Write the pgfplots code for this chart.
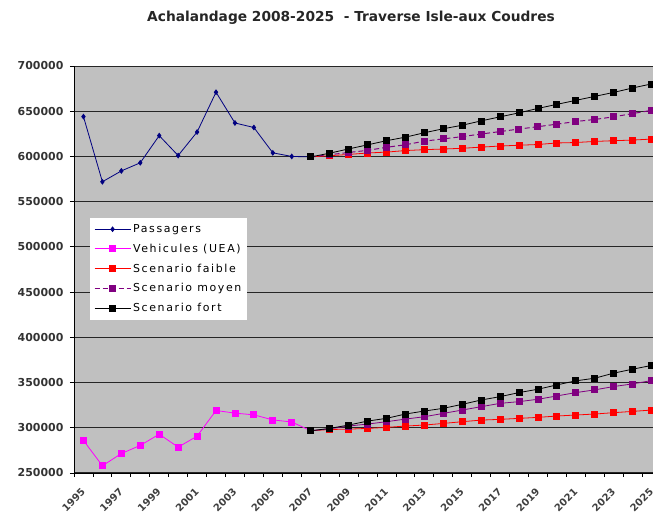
\documentclass[border=0pt]{standalone}
\usepackage{fontspec}
\setmainfont{DejaVu Sans}
\usepackage{pgfplots}
\pgfplotsset{compat=1.18}
\definecolor{plotbg}{RGB}{192,192,192}
\definecolor{navy}{RGB}{0,0,128}
\definecolor{magn}{RGB}{255,0,255}
\definecolor{purp}{RGB}{128,0,128}
\begin{document}
\begin{tikzpicture}
\begin{axis}[
  at={(74bp,44bp)}, anchor=south west,
  scale only axis, width=587bp, height=407bp,
  xmin=-0.5, xmax=30.5, ymin=250000, ymax=700000,
  axis x line=bottom, axis y line=left,
  axis line style={-, black, line width=0.9bp},
  axis background/.style={fill=plotbg},
  xtick={0,2,...,30},
  xticklabels={1995,1997,1999,2001,2003,2005,2007,2009,2011,2013,2015,2017,2019,2021,2023,2025},
  major x tick style={draw=none},
  minor xtick={-0.5,0.5,...,30.5},
  minor tick length=4bp, major tick length=4bp,
  tick align=outside,
  tick style={black, line width=0.8bp},
  x tick label style={rotate=45, anchor=north east, xshift=-6bp, yshift=-2bp, font=\bfseries\fontsize{10}{12}\selectfont, text=black!75},
  ytick={250000,300000,...,700000},
  scaled y ticks=false,
  y tick label style={/pgf/number format/.cd, fixed, 1000 sep={}, assume math mode=true, /tikz/.cd, xshift=-3bp, font=\bfseries\fontsize{11}{13}\selectfont, text=black!80},
  ymajorgrids,
  grid style={black!85, line width=1bp},
  legend style={at={(0.027,0.627)}, anchor=north west, draw=none, fill=white,
    font=\fontsize{11}{12}\selectfont\addfontfeature{LetterSpace=15}, row sep=6bp, inner xsep=4bp, inner ysep=4.5bp},
  legend cell align=left,
  legend image code/.code={\draw[mark repeat=2,mark phase=2,#1] plot coordinates {(0bp,0bp) (18bp,0bp) (36bp,0bp)};},
]
\addplot[navy, line width=0.8bp, mark=diamond*, mark size=2.3bp] coordinates {
 (0,644000) (1,572000) (2,584000) (3,593000) (4,623000) (5,601000) (6,627000)
 (7,671000) (8,637000) (9,632000) (10,604000) (11,600000) (12,599500)};
\addlegendentry{Passagers}
\addplot[magn, line width=0.8bp, mark=square*, mark size=3bp] coordinates {
 (0,286000) (1,258000) (2,271500) (3,280500) (4,292900) (5,278600) (6,290700)
 (7,319100) (8,316200) (9,314300) (10,308700) (11,306400) (12,296700)};
\addlegendentry{Vehicules (UEA)}
\addplot[red, line width=0.8bp, mark=square*, mark size=3bp] coordinates {
 (12,599500) (13,600800) (14,602200) (15,603800) (16,604800) (17,606500) (18,607500)
 (19,608200) (20,609000) (21,610300) (22,611500) (23,612400) (24,613200) (25,614900)
 (26,615400) (27,616600) (28,617400) (29,618100) (30,619200)};
\addlegendentry{Scenario faible}
\addplot[purp, line width=1bp, dash pattern=on 5bp off 3bp, mark=square*, mark size=3bp, mark options={solid}] coordinates {
 (12,599500) (13,601900) (14,604400) (15,606700) (16,610100) (17,612900) (18,616900)
 (19,619400) (20,621900) (21,624800) (22,627500) (23,630300) (24,632900) (25,635700)
 (26,638600) (27,640900) (28,643800) (29,647400) (30,651000)};
\addlegendentry{Scenario moyen}
\addplot[black, line width=0.8bp, mark=square*, mark size=3bp] coordinates {
 (12,599500) (13,603600) (14,608300) (15,612800) (16,617400) (17,621300) (18,626200)
 (19,630600) (20,634500) (21,639300) (22,643800) (23,648200) (24,653100) (25,657600)
 (26,662000) (27,666400) (28,670800) (29,675700) (30,680200)};
\addlegendentry{Scenario fort}
\addplot[red, line width=0.8bp, mark=square*, mark size=3bp, forget plot] coordinates {
 (12,296700) (13,298100) (14,298500) (15,299300) (16,300400) (17,301900) (18,303000)
 (19,304800) (20,306700) (21,308500) (22,309300) (23,310400) (24,311500) (25,313000)
 (26,314100) (27,315200) (28,316700) (29,318100) (30,319600)};
\addplot[purp, line width=0.8bp, mark=square*, mark size=3bp, forget plot] coordinates {
 (12,296700) (13,298900) (14,301900) (15,304100) (16,306700) (17,309600) (18,312200)
 (19,315900) (20,319600) (21,323300) (22,327000) (23,328900) (24,331500) (25,335200)
 (26,338900) (27,341900) (28,345600) (29,348500) (30,352200)};
\addplot[black, line width=0.8bp, mark=square*, mark size=3bp, forget plot] coordinates {
 (12,296700) (13,299300) (14,303000) (15,307400) (16,310400) (17,315200) (18,318500)
 (19,321500) (20,325900) (21,330700) (22,334400) (23,338900) (24,342600) (25,347400)
 (26,351900) (27,354800) (28,360400) (29,364800) (30,368900)};
\end{axis}
\node[font=\bfseries\fontsize{13.8}{15}\selectfont, text=black!85] at (351bp,499bp) {Achalandage 2008-2025\ \ - Traverse Isle-aux Coudres};
\pgfresetboundingbox
\path[use as bounding box] (0,0) rectangle (653bp,517bp);
\end{tikzpicture}
\end{document}
